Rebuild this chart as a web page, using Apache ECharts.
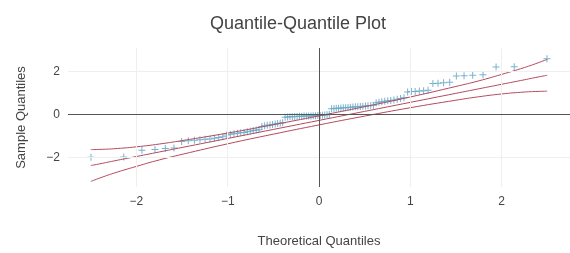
<!DOCTYPE html>
<html>
<head>
<meta charset="utf-8">
<script src="https://cdn.jsdelivr.net/npm/echarts@6/dist/echarts.min.js"></script>
<style>html,body{margin:0;padding:0;background:#fff}#c{width:570px;height:253px}</style>
</head>
<body>
<div id="c"></div>
<script>
// Theoretical quantiles (x) and sample quantiles (y)
const theoretical = [-2.498,-2.139,-1.940,-1.797,-1.684,-1.589,-1.505,-1.432,-1.365,-1.304,-1.248,-1.195,-1.146,-1.099,-1.054,-1.012,-0.971,-0.931,-0.894,-0.857,-0.821,-0.786,-0.753,-0.720,-0.688,-0.657,-0.626,-0.596,-0.567,-0.537,-0.509,-0.480,-0.453,-0.425,-0.398,-0.371,-0.344,-0.318,-0.292,-0.266,-0.240,-0.214,-0.189,-0.164,-0.138,-0.113,-0.088,-0.063,-0.038,-0.013,
  0.013,0.038,0.063,0.088,0.113,0.138,0.164,0.189,0.214,0.240,0.266,0.292,0.318,0.344,0.371,0.398,0.425,0.453,0.480,0.509,0.537,0.567,0.596,0.626,0.657,0.688,0.720,0.753,0.786,0.821,0.857,0.894,0.931,0.971,1.012,1.054,1.099,1.146,1.195,1.248,1.304,1.365,1.432,1.505,1.589,1.684,1.797,1.940,2.139,2.498];
const sample = [-1.98,-1.97,-1.66,-1.62,-1.58,-1.55,-1.25,-1.22,-1.19,-1.17,-1.15,-1.13,-1.10,-1.07,-1.03,-0.95,-0.92,-0.89,-0.87,-0.85,-0.83,-0.80,-0.77,-0.74,-0.72,-0.70,-0.55,-0.52,-0.50,-0.48,-0.46,-0.44,-0.42,-0.40,-0.38,-0.12,-0.11,-0.10,-0.10,-0.09,-0.09,-0.08,-0.08,-0.07,-0.07,-0.06,-0.06,-0.05,-0.05,-0.04,
  -0.04,-0.03,-0.02,-0.01,0.00,0.27,0.28,0.29,0.30,0.31,0.32,0.32,0.33,0.34,0.35,0.36,0.37,0.38,0.39,0.40,0.41,0.42,0.44,0.55,0.58,0.60,0.62,0.64,0.66,0.68,0.72,0.75,0.78,1.05,1.07,1.08,1.10,1.11,1.13,1.45,1.46,1.48,1.50,1.80,1.81,1.83,1.85,2.22,2.23,2.60];

// Reference line and confidence band
const bandZ     = [-2.5,-2.4,-2.25,-2.0,-1.75,-1.5,-1.0,-0.5,0.0,0.5,1.0,1.5,1.75,2.0,2.25,2.4,2.5];
const fitLine   = [-2.37,-2.29,-2.16,-1.95,-1.74,-1.53,-1.11,-0.69,-0.27,0.15,0.57,0.99,1.20,1.41,1.62,1.75,1.83];
const bandUpper = [-1.63,-1.62,-1.59,-1.50,-1.37,-1.21,-0.86,-0.47,-0.06,0.37,0.82,1.31,1.57,1.87,2.19,2.41,2.57];
const bandLower = [-3.11,-2.95,-2.73,-2.41,-2.11,-1.85,-1.36,-0.91,-0.48,-0.07,0.32,0.67,0.83,0.96,1.05,1.08,1.09];

const xTicks = [-2,-1,0,1,2];
const yTicks = [-2,0,2];
const xGrid = [-2,-1,1,2];
const yGrid = [-2,2];

const lineColor = '#b24a5c';
const markerColor = '#6aabc8';
const fmt = v => String(v).replace('-', '\u2212');

const zip = (a,b) => a.map((v,i)=>[v,b[i]]);
const gridLines = xGrid.map(v=>({xAxis:v, lineStyle:{color:'#efefef'}}))
  .concat(yGrid.map(v=>({yAxis:v, lineStyle:{color:'#efefef'}})))
  .concat([{xAxis:0, lineStyle:{color:'#555'}},{yAxis:0, lineStyle:{color:'#555'}}]);

const chart = echarts.init(document.getElementById('c'), null, {renderer:'canvas'});
const txt = {fontFamily:'Liberation Sans, Arial, sans-serif', color:'#444'};
chart.setOption({
  animation:false,
  title:{text:'Quantile-Quantile Plot', left:205, top:10, textStyle:Object.assign({fontSize:18, fontWeight:'normal'}, txt)},
  grid:{left:68, right:0, top:48, bottom:61, containLabel:false},
  xAxis:{type:'value', min:-2.75, max:2.75,
    name:'Theoretical Quantiles', nameLocation:'middle', nameGap:48,
    nameTextStyle:Object.assign({fontSize:13}, txt),
    axisLine:{show:false}, axisTick:{show:false}, splitLine:{show:false},
    axisLabel:Object.assign({customValues:xTicks, formatter:fmt, fontSize:12, margin:9}, txt)},
  yAxis:{type:'value', min:-3.37, max:3.1,
    name:'Sample Quantiles', nameLocation:'middle', nameGap:40,
    nameTextStyle:Object.assign({fontSize:13}, txt),
    axisLine:{show:false}, axisTick:{show:false}, splitLine:{show:false},
    axisLabel:Object.assign({customValues:yTicks, formatter:fmt, fontSize:12, margin:8}, txt)},
  series:[
    {type:'line', data:zip(bandZ,bandUpper), smooth:true, showSymbol:false, symbol:'none',
      lineStyle:{color:lineColor, width:1}, silent:true,
      markLine:{silent:true, symbol:'none', label:{show:false}, lineStyle:{type:'solid', width:1}, data:gridLines}},
    {type:'line', data:zip(bandZ,fitLine), smooth:true, symbol:'none', lineStyle:{color:lineColor, width:1}, silent:true},
    {type:'line', data:zip(bandZ,bandLower), smooth:true, symbol:'none', lineStyle:{color:lineColor, width:1}, silent:true},
    {type:'scatter', data:zip(theoretical,sample), symbol:'path://M3,0h1v3h3v1h-3v3h-1v-3h-3v-1h3z', symbolSize:7,
      itemStyle:{color:markerColor, opacity:0.9}}
  ]
});
</script>
</body>
</html>
